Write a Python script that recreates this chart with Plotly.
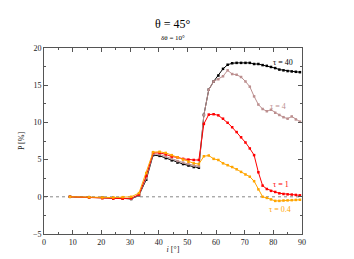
import plotly.graph_objects as go

# inclination grid (degrees)
incl = [9.07, 15.74, 20.36, 24.15, 27.44, 30.40, 33.13, 35.66, 38.05, 40.32,
        42.48, 44.56, 46.57, 48.51, 50.39, 52.23, 54.02, 55.77, 57.48, 59.17,
        60.82, 62.45, 64.06, 65.64, 67.20, 68.75, 70.28, 71.79, 73.29, 74.78,
        76.26, 77.73, 79.19, 80.65, 82.10, 83.54, 84.98, 86.42, 87.85, 89.28]

p_tau40 = [0.0, -0.05, -0.1, -0.15, -0.2, -0.3, 0.2, 2.3, 5.6, 5.5,
           5.2, 4.9, 4.6, 4.4, 4.2, 4.0, 3.9, 11.0, 14.4, 15.5,
           16.3, 17.2, 17.75, 17.95, 18.0, 18.0, 18.0, 18.0, 17.85, 17.85,
           17.7, 17.6, 17.45, 17.3, 17.1, 17.0, 16.9, 16.85, 16.8, 16.75]

p_tau4 = [0.0, -0.08, -0.15, -0.2, -0.25, -0.25, 0.25, 2.5, 5.75, 5.7,
          5.4, 5.1, 4.8, 4.6, 4.4, 4.2, 4.1, 11.0, 14.4, 15.5,
          15.8, 16.2, 17.0, 16.5, 16.4, 16.1, 15.5, 14.8, 13.5, 12.4,
          11.8, 11.5, 11.7, 11.3, 11.0, 10.7, 10.5, 10.8, 10.4, 10.1]

p_tau1 = [0.0, -0.1, -0.2, -0.25, -0.25, -0.2, 0.3, 2.8, 5.9, 5.9,
          5.7, 5.4, 5.3, 5.1, 5.0, 4.95, 4.95, 9.8, 11.05, 11.1,
          10.95, 10.5, 9.95, 9.35, 8.7, 8.0, 7.3, 6.5, 5.6, 3.3,
          1.5, 1.05, 0.8, 0.65, 0.47, 0.38, 0.33, 0.3, 0.25, 0.2]

p_tau04 = [0.0, -0.05, -0.1, -0.1, -0.05, 0.0, 0.5, 3.2, 6.0, 6.05,
           5.9, 5.6, 5.3, 5.0, 4.7, 4.5, 4.4, 5.45, 5.55, 5.1,
           4.95, 4.5, 4.25, 4.0, 3.7, 3.35, 3.0, 2.7, 2.1, 1.0,
           0.0, -0.15, -0.35, -0.55, -0.55, -0.5, -0.48, -0.45, -0.42, -0.4]

series_names = ["τ = 40", "τ = 4", "τ = 1", "τ = 0.4"]
series_colors = ["#000000", "#bc8f8f", "#ff0000", "#ffa500"]
label_x = [83.3, 81.5, 82.5, 82.4]
label_y = [18.1, 12.2, 1.6, -1.7]

x_ticks = [0, 10, 20, 30, 40, 50, 60, 70, 80, 90]
y_ticks = [-5, 0, 5, 10, 15, 20]

FONT = "Liberation Serif"
TXT = "#222222"

fig = go.Figure()

# zero reference line
fig.add_trace(go.Scatter(x=[0, 90], y=[0, 0], mode="lines",
                         line=dict(color="#888888", width=1, dash="dot"),
                         showlegend=False, hoverinfo="skip"))

for vals, name, col in zip([p_tau40, p_tau4, p_tau1, p_tau04], series_names, series_colors):
    fig.add_trace(go.Scatter(x=incl, y=vals, mode="lines+markers", name=name,
                             line=dict(color=col, width=1),
                             marker=dict(color=col, size=2.5, symbol="square"),
                             showlegend=False))

for name, col, lx, ly in zip(series_names, series_colors, label_x, label_y):
    fig.add_annotation(x=lx, y=ly, text=name, showarrow=False,
                       font=dict(family=FONT, size=8, color=col),
                       xanchor="center", yanchor="middle")

fig.add_annotation(x=0.5, y=1, xref="paper", yref="paper", yshift=24,
                   xanchor="center", yanchor="middle",
                   text="θ = 45°", showarrow=False,
                   font=dict(family=FONT, size=12, color="#000000"))
fig.add_annotation(x=0.5, y=1, xref="paper", yref="paper", yshift=10,
                   xanchor="center", yanchor="middle",
                   text="δθ = 10°", showarrow=False,
                   font=dict(family=FONT, size=7, color="#000000"))

axis_common = dict(showgrid=False, zeroline=False, showline=True,
                   linecolor="#555555", linewidth=1, mirror="ticks",
                   ticks="inside", ticklen=4, tickcolor="#555555", tickwidth=1,
                   tickfont=dict(family=FONT, size=8, color=TXT))

fig.update_xaxes(range=[0, 90], tickvals=x_ticks,
                 minor=dict(dtick=5, tick0=0, ticks="inside", ticklen=2, tickcolor="#555555"),
                 title=dict(text="<i>i</i> [°]", font=dict(family=FONT, size=8, color=TXT),
                            standoff=0),
                 **axis_common)
fig.update_yaxes(range=[-5, 20], tickvals=y_ticks,
                 minor=dict(dtick=2.5, tick0=0, ticks="inside", ticklen=2, tickcolor="#555555"),
                 title=dict(text="P [%]", font=dict(family=FONT, size=8, color=TXT),
                            standoff=7),
                 **axis_common)

fig.update_layout(width=354, height=259,
                  margin=dict(l=28, r=60, t=40, b=33),
                  paper_bgcolor="white", plot_bgcolor="white",
                  font=dict(family=FONT))

fig.write_html("out.html")
